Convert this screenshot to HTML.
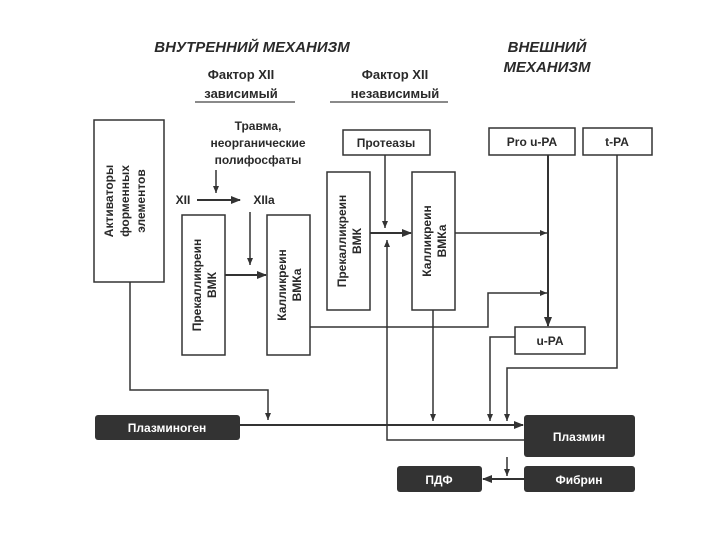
<!DOCTYPE html>
<html><head><meta charset="utf-8"><style>
html,body{margin:0;padding:0;background:#fff;}
svg{display:block;}
text{font-family:"Liberation Sans",sans-serif;fill:#2a2a2a;font-weight:bold;}
</style></head><body>
<svg width="720" height="540" viewBox="0 0 720 540" xmlns="http://www.w3.org/2000/svg">
<defs>
<marker id="a" markerWidth="10" markerHeight="8" refX="9" refY="4" orient="auto" markerUnits="userSpaceOnUse">
<path d="M0,0 L10,4 L0,8 Z" fill="#333"/></marker>
<marker id="s" markerWidth="7" markerHeight="6" refX="7" refY="3" orient="auto" markerUnits="userSpaceOnUse">
<path d="M0,0 L7,3 L0,6 Z" fill="#333"/></marker>
</defs>
<g font-style="italic" font-size="15">
<text x="252" y="52" text-anchor="middle">ВНУТРЕННИЙ МЕХАНИЗМ</text>
<text x="547" y="52" text-anchor="middle">ВНЕШНИЙ</text>
<text x="547" y="72" text-anchor="middle">МЕХАНИЗМ</text>
</g>
<g font-size="13" text-anchor="middle">
<text x="241" y="79">Фактор XII</text>
<text x="241" y="98">зависимый</text>
<text x="395" y="79">Фактор XII</text>
<text x="395" y="98">независимый</text>
</g>
<g stroke="#444" stroke-width="1.3">
<line x1="195" y1="102" x2="295" y2="102"/>
<line x1="330" y1="102" x2="448" y2="102"/>
</g>
<g font-size="12" text-anchor="middle">
<text x="258" y="130">Травма,</text>
<text x="258" y="147">неорганические</text>
<text x="258" y="164">полифосфаты</text>
<text x="183" y="204">XII</text>
<text x="264" y="204">XIIa</text>
</g>
<g fill="#fff" stroke="#333" stroke-width="1.5">
<rect x="94" y="120" width="70" height="162"/>
<rect x="182" y="215" width="43" height="140"/>
<rect x="267" y="215" width="43" height="140"/>
<rect x="343" y="130" width="87" height="25"/>
<rect x="327" y="172" width="43" height="138"/>
<rect x="412" y="172" width="43" height="138"/>
<rect x="489" y="128" width="86" height="27"/>
<rect x="583" y="128" width="69" height="27"/>
<rect x="515" y="327" width="70" height="27"/>
</g>
<g fill="#333">
<rect x="95" y="415" width="145" height="25" rx="3"/>
<rect x="524" y="415" width="111" height="42" rx="3"/>
<rect x="397" y="466" width="85" height="26" rx="3"/>
<rect x="524" y="466" width="111" height="26" rx="3"/>
</g>
<g font-size="12" text-anchor="middle">
<text transform="translate(129,201) rotate(-90)"><tspan x="0" y="-16">Активаторы</tspan><tspan x="0" y="0">форменных</tspan><tspan x="0" y="16">элементов</tspan></text>
<text transform="translate(204,285) rotate(-90)"><tspan x="0" y="-3">Прекалликреин</tspan><tspan x="0" y="12">ВМК</tspan></text>
<text transform="translate(289,285) rotate(-90)"><tspan x="0" y="-3">Калликреин</tspan><tspan x="0" y="12">ВМКа</tspan></text>
<text transform="translate(349,241) rotate(-90)"><tspan x="0" y="-3">Прекалликреин</tspan><tspan x="0" y="12">ВМК</tspan></text>
<text transform="translate(434,241) rotate(-90)"><tspan x="0" y="-3">Калликреин</tspan><tspan x="0" y="12">ВМКа</tspan></text>
<text x="386" y="147">Протеазы</text>
<text x="532" y="146">Pro u-PA</text>
<text x="617" y="146">t-PA</text>
<text x="550" y="345">u-PA</text>
</g>
<g font-size="12" text-anchor="middle">
<text x="167" y="432" style="fill:#fff">Плазминоген</text>
<text x="579" y="441" style="fill:#fff">Плазмин</text>
<text x="439" y="484" style="fill:#fff">ПДФ</text>
<text x="579" y="484" style="fill:#fff">Фибрин</text>
</g>
<g stroke="#333" stroke-width="1.5" fill="none">
<line x1="216" y1="170" x2="216" y2="193" marker-end="url(#s)"/>
<line x1="197" y1="200" x2="240" y2="200" stroke-width="2" marker-end="url(#a)"/>
<line x1="250" y1="212" x2="250" y2="265" marker-end="url(#s)"/>
<line x1="225" y1="275" x2="266" y2="275" stroke-width="2" marker-end="url(#a)"/>
<polyline points="130,282 130,390 268,390 268,420" marker-end="url(#s)"/>
<line x1="385" y1="155" x2="385" y2="228" marker-end="url(#s)"/>
<line x1="370" y1="233" x2="411" y2="233" stroke-width="2" marker-end="url(#a)"/>
<polyline points="524,440 387,440 387,240" marker-end="url(#s)"/>
<line x1="455" y1="233" x2="547" y2="233" marker-end="url(#s)"/>
<polyline points="310,327 488,327 488,293 547,293" marker-end="url(#s)"/>
<line x1="548" y1="155" x2="548" y2="326" stroke-width="2" marker-end="url(#a)"/>
<line x1="433" y1="310" x2="433" y2="421" marker-end="url(#s)"/>
<polyline points="515,337 490,337 490,421" marker-end="url(#s)"/>
<polyline points="617,155 617,368 507,368 507,421" marker-end="url(#s)"/>
<line x1="240" y1="425" x2="523" y2="425" stroke-width="2" marker-end="url(#a)"/>
<line x1="507" y1="457" x2="507" y2="476" marker-end="url(#s)"/>
<line x1="524" y1="479" x2="483" y2="479" stroke-width="2" marker-end="url(#a)"/>
</g>
</svg>
</body></html>
